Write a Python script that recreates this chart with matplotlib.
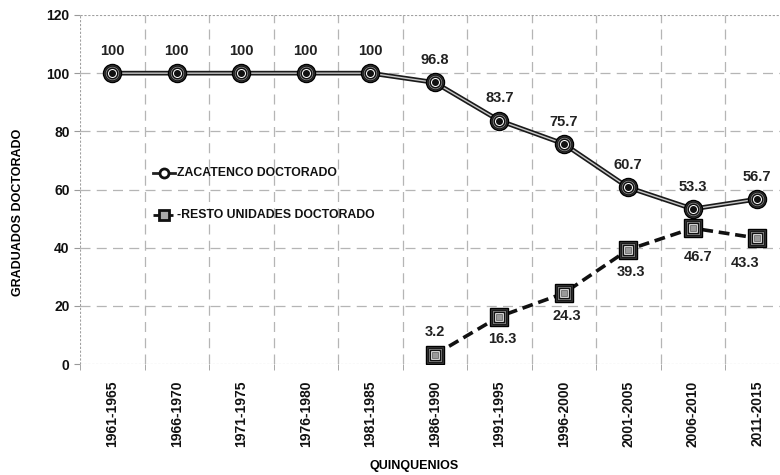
import numpy as np
import matplotlib.pyplot as plt

# Graduados de doctorado por quinquenio (%)
quinquenios = ['1961-1965', '1966-1970', '1971-1975', '1976-1980', '1981-1985',
               '1986-1990', '1991-1995', '1996-2000', '2001-2005', '2006-2010', '2011-2015']
zacatenco = [100, 100, 100, 100, 100, 96.8, 83.7, 75.7, 60.7, 53.3, 56.7]
resto = [np.nan, np.nan, np.nan, np.nan, np.nan, 3.2, 16.3, 24.3, 39.3, 46.7, 43.3]

plt.rcParams['font.family'] = ['Liberation Sans', 'DejaVu Sans']
plt.rcParams['font.weight'] = 'bold'

fig = plt.figure(figsize=(7.8, 4.75), dpi=100)
ax = fig.add_axes([80 / 780, 1 - 364 / 475, 709.5 / 780, 349 / 475])
x = np.arange(len(quinquenios))

# rejilla
for b in np.arange(0.5, 10.5, 1):
    ax.axvline(b, color='#b5b5b5', lw=0.9, ls=(0, (8, 5)), zorder=0)
for yv in [20, 40, 60, 80, 100]:
    ax.axhline(yv, color='#b5b5b5', lw=0.9, ls=(0, (8, 5)), zorder=0)
ax.axhline(120, color='#a0a0a0', lw=0.8, ls=(0, (2, 1.5)), zorder=0)
ax.axhline(0, color='#a0a0a0', lw=0.8, ls=(0, (2, 1.5)), zorder=0)
ax.axvline(-0.5, color='#a0a0a0', lw=0.8, ls=(0, (2, 1.5)), zorder=0)

# serie Zacatenco: linea doble con marcadores circulares
ax.plot(x, zacatenco, color='#1a1a1a', lw=3.4, zorder=2)
ax.plot(x, zacatenco, color='#c8c8c8', lw=1.0, zorder=2)
ax.plot(x, zacatenco, ls='none', marker='o', ms=13, mfc='#3c3c3c', mec='#000000', mew=1.0, zorder=3)
ax.plot(x, zacatenco, ls='none', marker='o', ms=10.5, mfc='#8a8a8a', mec='#1a1a1a', mew=0.8, zorder=4)
ax.plot(x, zacatenco, ls='none', marker='o', ms=7.5, mfc='white', mec='#111111', mew=1.0, zorder=5)
ax.plot(x, zacatenco, ls='none', marker='o', ms=4, mfc='#111111', mec='#111111', zorder=6)

# serie resto de unidades: linea punteada con marcadores cuadrados
ax.plot(x, resto, color='#111111', lw=2.6, ls=(0, (3, 1.6)), zorder=2)
ax.plot(x, resto, ls='none', marker='s', ms=13, mfc='#3c3c3c', mec='#000000', mew=1.0, zorder=3)
ax.plot(x, resto, ls='none', marker='s', ms=10.5, mfc='#8a8a8a', mec='#1a1a1a', mew=0.8, zorder=4)
ax.plot(x, resto, ls='none', marker='s', ms=7.5, mfc='white', mec='#111111', mew=1.0, zorder=5)
ax.plot(x, resto, ls='none', marker='s', ms=4, mfc='#9a9a9a', mec='#555555', mew=0.5, zorder=6)

# etiquetas de datos
for xi, v in zip(x, zacatenco):
    ax.annotate(f'{v:g}', (xi, v), xytext=(0, 11), textcoords='offset points',
                ha='center', va='bottom', fontsize=10.5, color='#222222')
for xi, v in zip(x, resto):
    if np.isnan(v):
        continue
    if v == 3.2:
        off, va = (0, 11), 'bottom'
    elif v == 46.7:
        off, va = (4, -16), 'top'
    elif v == 43.3:
        off, va = (-9, -13), 'top'
    else:
        off, va = (2, -11), 'top'
    ax.annotate(f'{v:g}', (xi, v), xytext=off, textcoords='offset points',
                ha='center', va=va, fontsize=10.5, color='#222222')

# leyenda dentro del area
lx0, lx1 = 0.63, 0.97
ax.plot([lx0, lx1], [65.7, 65.7], color='#222222', lw=2, zorder=5)
ax.plot([(lx0 + lx1) / 2], [65.7], marker='o', ms=6.5, mfc='white', mec='#111111', mew=2, zorder=6)
ax.text(lx1 + 0.03, 65.7, 'ZACATENCO DOCTORADO', ha='left', va='center', fontsize=8.8, color='#111111')
ax.plot([lx0, lx1], [51.2, 51.2], color='#111111', lw=2, ls=(0, (3, 1.2)), zorder=5)
ax.plot([(lx0 + lx1) / 2], [51.2], marker='s', ms=6.5, mfc='#aaaaaa', mec='#111111', mew=2, zorder=6)
ax.text(lx1 + 0.03, 51.2, '-RESTO UNIDADES DOCTORADO', ha='left', va='center', fontsize=8.8, color='#111111')

ax.set_xlim(-0.5, 10.5)
ax.set_ylim(0, 120)
ax.set_yticks([0, 20, 40, 60, 80, 100, 120])
ax.set_xticks(x)
ax.set_xticklabels(quinquenios, rotation=90, fontsize=10, color='#111111')
ax.set_xticks(np.arange(-0.5, 10.6, 1), minor=True)
ax.tick_params(axis='x', which='major', length=0, pad=12)
ax.tick_params(axis='x', which='minor', length=4, color='#999999')
ax.tick_params(axis='y', length=4, color='#999999', labelsize=10, labelcolor='#111111')
for s in ax.spines.values():
    s.set_visible(False)

fig.text(18 / 780, 1 - 212 / 475, 'GRADUADOS DOCTORADO', rotation=90, ha='center', va='center', fontsize=9)
fig.text(414 / 780, 1 - 466 / 475, 'QUINQUENIOS', ha='center', va='center', fontsize=9)

fig.savefig('out.png', dpi=100)
